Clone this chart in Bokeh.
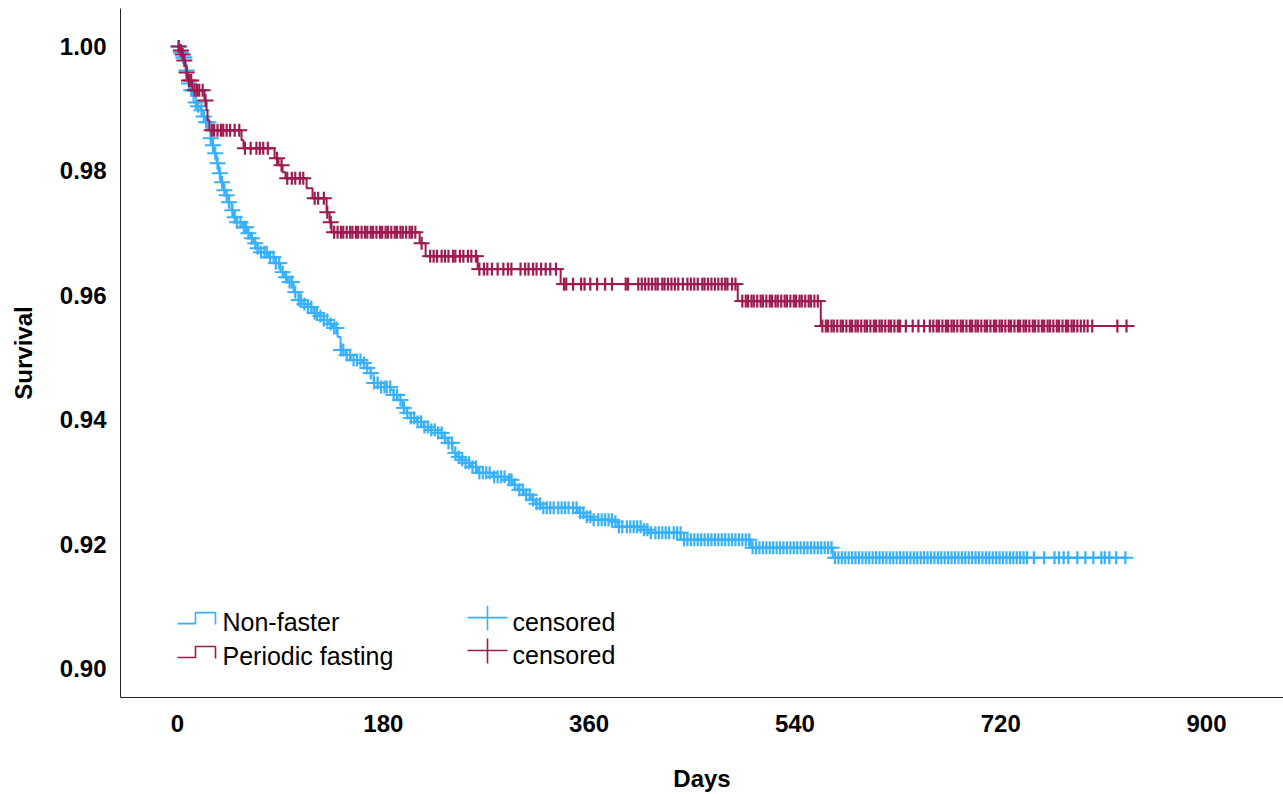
import numpy as np
from bokeh.plotting import figure
from bokeh.models import Range1d, FixedTicker, PrintfTickFormatter, ColumnDataSource
from bokeh.core.properties import value
from bokeh.embed import file_html
from bokeh.resources import INLINE

# ---------------- data ----------------
x_ticks = [0, 180, 360, 540, 720, 900]
y_ticks = [0.90, 0.92, 0.94, 0.96, 0.98, 1.00]
groups = ["Non-faster", "Periodic fasting"]

# Non-faster: event times (days) and survival after each event
nf_event_days = [2.6, 4.4, 6.1, 7.0, 8.75, 9.6, 11.4, 14.0, 17.5, 20.1, 22.75, 24.5, 27.1, 28.9,
                 30.6, 31.5, 34.1, 35.9, 37.6, 40.25, 42.0, 44.6, 47.25, 49.0, 51.6, 56.9, 61.25,
                 63.9, 66.5, 70.0, 72.6, 79.6, 85.75, 90.1, 93.6, 96.25, 101.5, 105.9, 110.25,
                 113.75, 119.0, 123.4, 127.75, 132.1, 135.6, 140.0, 142.6, 147.0, 151.4, 161.9,
                 165.4, 168.9, 171.5, 177.6, 186.4, 189.0, 192.5, 196.9, 200.4, 203.9, 209.1,
                 215.25, 221.4, 227.5, 231.9, 236.25, 240.6, 244.1, 247.6, 252.0, 256.4, 262.5,
                 275.6, 288.75, 293.1, 297.5, 302.75, 308.9, 313.25, 317.6, 350.0, 355.25, 361.4,
                 381.5, 385.0, 407.75, 411.25, 440.1, 501.4, 573.1]
nf_event_surv = [0.99904, 0.99823, 0.99711, 0.99615, 0.99502, 0.99406, 0.99294, 0.99101, 0.99037,
                 0.98973, 0.98876, 0.98780, 0.98652, 0.98523, 0.98411, 0.98283, 0.98122, 0.97961,
                 0.97817, 0.97689, 0.97608, 0.97496, 0.97368, 0.97255, 0.97175, 0.97095, 0.96998,
                 0.96918, 0.96838, 0.96758, 0.96693, 0.96613, 0.96517, 0.96372, 0.96292, 0.96212,
                 0.96051, 0.95923, 0.95859, 0.95811, 0.95714, 0.95666, 0.95602, 0.95538, 0.95474,
                 0.95329, 0.95120, 0.95040, 0.94960, 0.94912, 0.94832, 0.94751, 0.94591, 0.94526,
                 0.94478, 0.94398, 0.94318, 0.94190, 0.94109, 0.94029, 0.93965, 0.93884, 0.93836,
                 0.93788, 0.93708, 0.93628, 0.93467, 0.93403, 0.93355, 0.93307, 0.93242, 0.93146,
                 0.93082, 0.93034, 0.92953, 0.92873, 0.92793, 0.92713, 0.92649, 0.92584, 0.92504,
                 0.92440, 0.92392, 0.92360, 0.92279, 0.92231, 0.92183, 0.92071, 0.91942, 0.91782]
nf_last_day = 829
nf_censored_days = [1, 3, 5, 6, 8, 10, 12, 13, 16, 18, 21, 23, 25, 27, 29, 31, 33, 35, 37, 39, 41,
                    43, 45, 48, 50, 52, 55, 58, 60, 62, 65, 68, 70, 73, 76, 78, 81, 84, 86, 89, 92,
                    95, 98, 100, 103, 106, 108, 111, 114, 117, 120, 122, 125, 128, 131, 134, 137,
                    139, 143, 145, 148, 151, 154, 157, 160, 163, 166, 169, 172, 175, 178, 181, 183,
                    186, 189, 192, 195, 198, 201, 204, 207, 210, 213, 216, 219, 222, 225, 228, 231,
                    234, 237, 240, 243, 246, 249, 252, 255, 258, 261, 264, 267, 270, 273, 277, 280,
                    283, 286, 290, 292, 295, 299, 302, 305, 308, 311, 314, 317, 320, 323, 326, 329,
                    333, 336, 339, 342, 346, 349, 352, 355, 358, 361, 364, 368, 371, 374, 377, 380,
                    383, 386, 389, 393, 396, 399, 402, 405, 408, 411, 414, 418, 421, 424, 427, 430,
                    434, 437, 440, 443, 446, 449, 452, 455, 458, 461, 464, 467, 470, 473, 476, 479,
                    482, 485, 488, 491, 494, 497, 500, 503, 506, 509, 512, 515, 518, 521, 524, 527,
                    530, 533, 536, 539, 542, 545, 548, 551, 554, 557, 560, 563, 566, 569, 572, 575,
                    578, 581, 584, 587, 590, 593, 596, 599, 602, 605, 608, 611, 614, 617, 620, 623,
                    626, 629, 632, 635, 638, 641, 644, 647, 650, 653, 656, 659, 662, 665, 668, 671,
                    674, 677, 680, 683, 686, 689, 692, 695, 698, 701, 704, 707, 710, 713, 716, 719,
                    722, 725, 728, 731, 734, 737, 740, 743, 749, 758, 767, 771, 775, 779, 787, 794,
                    801, 808, 811, 815, 821, 829]

# Periodic fasting
pf_event_days = [1.75, 3.5, 5.25, 7.0, 7.9, 8.75, 13.1, 23.6, 25.4, 26.25, 28.0, 56.0, 57.75,
                 84.9, 88.4, 91.9, 94.5, 112.9, 118.1, 130.4, 133.0, 134.75, 211.75, 217.0,
                 262.5, 335.1, 490.0, 562.6]
pf_event_surv = [0.99936, 0.99872, 0.99775, 0.99679, 0.99583, 0.99454, 0.99294, 0.99133, 0.98973,
                 0.98812, 0.98652, 0.98491, 0.98363, 0.98202, 0.98090, 0.97978, 0.97881, 0.97721,
                 0.97560, 0.97335, 0.97175, 0.97014, 0.96838, 0.96629, 0.96421, 0.96180, 0.95907,
                 0.95506]
pf_last_day = 830
pf_censored_days = [1, 3, 4.5, 6, 8, 10, 12, 15, 17, 19, 22, 24.5, 30, 32, 35, 38, 40, 43, 46, 50,
                    54, 59, 64, 69, 72, 75, 79, 87, 91, 96, 100, 103, 107, 110, 120, 123, 128, 131,
                    134, 137, 140, 143, 145, 148, 151, 153, 156, 158, 161, 164, 166, 169, 171, 174,
                    177, 179, 182, 184, 187, 190, 192, 195, 197, 200, 203, 205, 208, 213.5, 221,
                    224, 227, 231, 234, 237, 241, 243, 247, 250, 254, 257, 261, 264, 268, 271, 275,
                    280, 285, 289, 292, 300, 304, 307, 311, 314, 318, 322, 326, 331, 338, 340, 346,
                    353, 356, 361, 367, 374, 380, 392, 394, 403, 406, 409, 412, 415, 418, 420, 424,
                    426, 429, 432, 435, 438, 442, 446, 449, 452, 455, 459, 461, 464, 467, 470, 473,
                    476, 479, 481, 485, 488, 494, 497, 499, 502, 504, 507, 510, 512, 515, 518, 520,
                    523, 525, 528, 531, 533, 536, 539, 541, 544, 546, 549, 552, 554, 557, 560, 564,
                    567, 569, 572, 574, 577, 580, 582, 585, 588, 590, 593, 595, 598, 601, 603, 606,
                    609, 611, 614, 616, 619, 622, 624, 627, 630, 632, 637, 643, 648, 653, 658, 661,
                    664, 666, 669, 672, 674, 677, 679, 682, 685, 687, 690, 693, 695, 698, 700, 703,
                    706, 708, 711, 714, 716, 719, 721, 724, 727, 729, 732, 735, 737, 740, 742, 745,
                    748, 750, 753, 756, 758, 761, 763, 766, 769, 771, 774, 777, 779, 782, 784, 787,
                    790, 793, 796, 800, 822, 830]

BLUE = "#36B0FF"
CRIMSON = "#9D1B50"
FONT = "Liberation Sans"

# ---------------- figure ----------------
FRAME_L, FRAME_T, FRAME_R, FRAME_B = 120, 8, 1283, 698
X0, X1 = -49.85, 967.3
Y0, Y1 = 0.89535, 1.0061
p = figure(width=1283, height=794, output_backend="svg", toolbar_location=None,
           x_range=Range1d(X0, X1), y_range=Range1d(Y0, Y1),
           min_border_left=FRAME_L, min_border_right=0, min_border_top=FRAME_T,
           min_border_bottom=794 - FRAME_B)
p.outline_line_color = None
p.grid.visible = False
p.background_fill_color = "white"
p.border_fill_color = "white"

for ax in (p.xaxis[0], p.yaxis[0]):
    ax.axis_line_color = "#222222"
    ax.axis_line_width = 1
    ax.major_tick_line_color = None
    ax.minor_tick_line_color = None
    ax.major_label_text_font = FONT
    ax.major_label_text_font_style = "bold"
    ax.major_label_text_font_size = "24px"
    ax.major_label_text_color = "black"
    ax.axis_label_text_font = FONT
    ax.axis_label_text_font_style = "bold"
    ax.axis_label_text_font_size = "24px"
    ax.axis_label_text_color = "black"

p.xaxis.ticker = FixedTicker(ticks=x_ticks)
p.yaxis.ticker = FixedTicker(ticks=y_ticks)
p.yaxis.formatter = PrintfTickFormatter(format="%.2f")
p.xaxis.axis_label = "Days"
p.yaxis.axis_label = "Survival"
p.xaxis.major_label_standoff = 11
p.yaxis.major_label_standoff = 8
p.xaxis.axis_label_standoff = 30
p.yaxis.axis_label_standoff = 20


def km_curve(event_days, event_surv, last_day):
    xs = [0.0] + list(event_days) + [last_day]
    ys = [1.0] + list(event_surv) + [event_surv[-1]]
    return xs, ys


def surv_at(days, event_days, event_surv):
    ed = np.asarray(event_days)
    es = np.concatenate([[1.0], np.asarray(event_surv)])
    idx = np.searchsorted(ed, np.asarray(days, dtype=float), side="right")
    return es[idx]


series = [
    (nf_event_days, nf_event_surv, nf_last_day, nf_censored_days, BLUE),
    (pf_event_days, pf_event_surv, pf_last_day, pf_censored_days, CRIMSON),
]
for ev_d, ev_s, last, cens, col in series:
    xs, ys = km_curve(ev_d, ev_s, last)
    p.step(xs, ys, mode="after", line_color=col, line_width=2)
    src = ColumnDataSource(dict(x=cens, y=surv_at(cens, ev_d, ev_s)))
    p.scatter("x", "y", source=src, marker="dash", size=16, line_color=col, line_width=2)
    p.scatter("x", "y", source=src, marker="dash", size=13, angle=np.pi / 2,
              line_color=col, line_width=2.2)

# ---------------- legend (drawn by hand, placed in screen pixels) ----------------
def LX(px):
    return X0 + (px - FRAME_L) * (X1 - X0) / (FRAME_R - FRAME_L)


def LY(py):
    return Y1 - (py - FRAME_T) * (Y1 - Y0) / (FRAME_B - FRAME_T)


cols = [BLUE, CRIMSON]
for i, (name, col) in enumerate(zip(groups, cols)):
    off = 34 * i
    p.line([LX(177), LX(195), LX(195), LX(215), LX(215)],
           [LY(624 + off), LY(624 + off), LY(613 + off), LY(613 + off), LY(625 + off)],
           line_color=col, line_width=1.6)
    p.text([LX(222)], [LY(622 + off)], text=[name], text_font=value(FONT),
           text_font_size="25px", text_color="black", text_baseline="alphabetic",
           text_align="left")
    off2 = 33 * i
    p.line([LX(467), LX(507)], [LY(618 + off2), LY(618 + off2)], line_color=col, line_width=1.6)
    p.line([LX(487), LX(487)], [LY(606 + off2), LY(631 + off2)], line_color=col, line_width=1.6)
    p.text([LX(512)], [LY(622 + off2)], text=["censored"], text_font=value(FONT),
           text_font_size="25px", text_color="black", text_baseline="alphabetic",
           text_align="left")

open("out.html", "w").write(file_html(p, INLINE))
